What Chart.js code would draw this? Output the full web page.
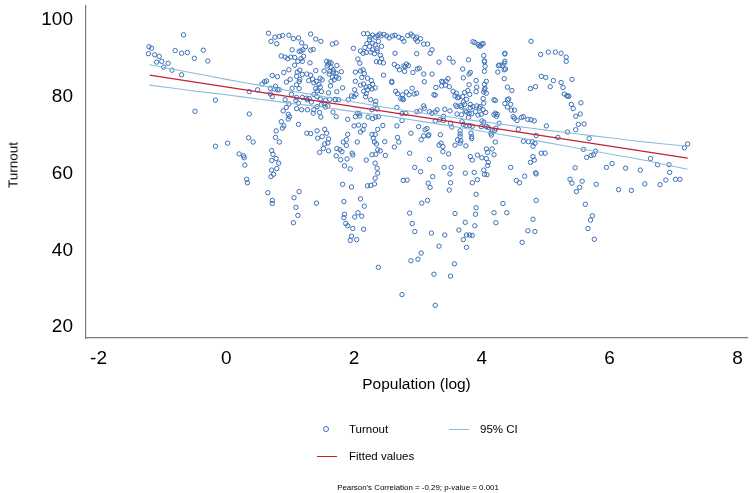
<!DOCTYPE html>
<html>
<head>
<meta charset="utf-8">
<script src="https://cdn.jsdelivr.net/npm/chart.js@4.4.1/dist/chart.umd.min.js"></script>
<style>
  html, body { margin: 0; padding: 0; background: #ffffff; }
  #wrap { position: relative; width: 752px; height: 493px; font-family: Helvetica, Arial, "Liberation Sans", sans-serif; color: #000; }
  canvas { position: absolute; left: 0; top: 0; }
  .lg { position: absolute; font-size: 11.5px; line-height: 14px; white-space: nowrap; }
  .mk { position: absolute; width: 4px; height: 4px; border: 1px solid #3a6fb8; border-radius: 50%; }
  .ln { position: absolute; height: 1px; }
  #note { position: absolute; left: 0; width: 836px; text-align: center; font-size: 7.9px; top: 483px; white-space: nowrap; }
  #ytitle { position: absolute; left: 13px; top: 165px; font-size: 13.5px; white-space: nowrap; transform: translate(-50%, -50%) rotate(-90deg); }
</style>
</head>
<body>
<div id="wrap">
  <canvas id="c" width="752" height="493"></canvas>
  <div id="ytitle">Turnout</div>
  <div class="mk" style="left:323px; top:426px;"></div>
  <div class="lg" style="left:349px; top:422px;">Turnout</div>
  <div class="ln" style="left:449px; top:429px; width:20px; background:#8fbcdb;"></div>
  <div class="lg" style="left:480px; top:422px;">95% CI</div>
  <div class="ln" style="left:317px; top:456px; width:20px; background:#c81e32;"></div>
  <div class="lg" style="left:349px; top:449px;">Fitted values</div>
  <div id="note">Pearson's Correlation = -0.29; p-value = 0.001</div>
</div>
<script>
// ---- data ----
const popLog = [
-1.21,-1.17,-1.22,-1.12,-1.05,-1.09,-1.01,-0.98,-0.91,-0.85,-0.80,-0.70,-0.67,-0.61,-0.50,-0.36,-0.29,-0.70,-0.49,-0.17,
0.36,0.49,0.36,-0.17,0.02,0.35,0.42,0.20,0.27,0.28,0.29,0.32,0.33,
0.66,0.76,0.83,0.88,0.98,1.05,1.13,1.32,1.40,1.48,0.70,0.79,1.18,1.03,1.24,1.14,1.17,1.20,1.36,1.66,1.72,
2.15,2.21,2.25,2.29,2.33,2.37,2.40,2.42,2.47,2.51,2.55,2.60,2.64,2.70,2.75,2.78,2.84,2.89,2.92,2.98,
2.20,2.17,2.24,2.29,2.33,2.29,2.36,2.38,2.43,2.24,2.10,2.14,2.19,2.26,2.32,2.36,2.41,2.43,2.40,2.46,2.35,1.99,2.06,2.09,
0.86,0.92,0.96,1.01,1.07,1.12,1.17,1.19,1.21,1.07,1.31,1.32,
2.64,2.63,2.68,2.71,2.78,2.80,2.85,2.82,2.79,2.92,2.98,2.99,
1.57,1.61,1.60,1.64,1.58,1.64,1.67,1.73,1.62,1.68,1.72,1.61,1.66,1.72,1.69,1.76,1.80,1.64,1.53,1.40,1.47,1.50,1.41,1.45,1.37,1.29,
1.19,1.26,1.32,1.35,1.47,1.40,1.42,1.49,1.15,1.11,1.10,1.15,1.14,1.10,0.90,0.98,1.00,0.94,0.80,0.72,0.63,0.60,0.56,
0.69,0.75,0.77,0.69,0.72,0.80,0.83,1.03,1.02,1.10,1.14,1.63,1.60,1.82,1.73,1.71,
2.02,2.10,2.14,2.16,2.12,2.02,2.10,2.15,2.19,2.24,2.21,2.28,2.33,2.15,2.19,2.18,2.26,2.34,2.01,2.03,2.00,1.96,1.91,2.21,2.27,2.29,
2.59,2.65,2.68,2.76,2.76,2.82,2.86,2.91,2.94,2.98,2.73,2.77,2.46,2.59,
1.19,1.25,1.30,1.37,1.42,1.47,1.55,1.53,1.55,1.59,1.62,1.70,1.76,1.49,1.42,1.37,1.33,1.27,0.92,0.98,0.94,0.89,0.97,1.09,1.13,1.10,1.18,1.27,1.36,1.46,1.48,1.67,1.72,1.90,
2.05,2.08,2.02,2.09,2.33,2.28,2.36,2.38,2.22,2.29,2.34,2.67,2.75,2.81,2.75,2.67,3.01,
0.86,0.90,0.88,0.99,0.97,1.13,2.00,2.07,2.16,2.14,2.10,2.28,2.33,2.30,2.37,2.45,2.35,2.32,2.48,
1.26,1.32,1.42,1.54,1.57,1.60,1.43,1.50,1.54,1.59,1.52,1.46,1.60,1.73,1.78,1.81,1.90,1.88,1.83,1.88,1.98,2.05,1.97,1.72,1.79,1.89,1.94,1.85,
0.78,0.77,0.83,0.71,0.73,0.78,0.82,0.71,0.79,0.71,0.74,0.70,
2.19,2.28,2.34,2.37,2.41,2.49,2.33,2.36,2.37,2.33,2.87,2.95,2.89,2.68,2.70,2.63,
0.65,0.72,0.72,1.06,1.14,1.09,1.12,1.05,1.41,1.82,1.96,1.84,2.10,2.16,1.85,1.84,1.87,1.90,2.01,2.06,2.12,1.98,2.15,1.96,1.94,2.04,
2.21,2.26,2.32,2.77,2.83,2.87,2.91,2.95,2.38,2.89,3.00,2.75,
3.04,3.23,3.16,3.19,3.50,3.51,3.49,3.85,3.93,3.88,4.04,4.08,3.91,3.91,3.90,3.89,3.74,3.64,3.71,3.76,3.81,3.85,3.76,3.58,3.42,3.33,3.21,3.15,3.06,3.05,
3.57,3.25,3.51,3.27,4.19,4.33,4.39,4.22,4.54,4.59,4.67,4.84,4.85,4.85,4.80,4.72,4.83,4.63,5.38,5.41,5.48,
5.57,5.53,5.79,5.62,5.73,5.70,5.66,5.76,6.14,6.34,6.55,6.79,6.88,6.94,7.03,7.10,
5.41,5.35,5.36,5.40,5.43,5.55,5.54,5.47,5.51,5.60,5.47,5.34,5.68,5.59,5.78,5.75,5.71,5.64,5.46,5.95,6.04,6.25,6.48,6.64,6.75,6.93,7.17,7.22,
2.96,3.04,2.99,3.09,3.15,3.22,3.19,3.33,3.02,3.09,3.10,3.22,3.49,3.55,3.79,3.70,3.80,3.82,3.71,
3.86,3.89,3.94,3.96,4.00,4.02,3.98,4.03,4.04,4.04,4.05,4.04,4.07,4.04,4.05,4.03,4.04,
4.36,4.36,4.36,4.35,4.32,4.28,4.26,4.25,4.35,4.37,4.35,4.40,
3.37,3.39,3.44,3.47,3.43,3.49,3.28,3.27,3.25,3.37,3.55,3.60,3.58,3.62,3.64,3.70,3.73,3.80,3.78,3.81,3.76,3.71,3.67,3.59,3.61,3.68,3.73,3.82,3.82,3.86,
3.91,3.91,3.92,4.07,4.02,4.03,3.92,3.97,3.96,4.02,4.06,3.99,3.94,3.90,3.74,3.76,3.80,3.79,3.84,3.68,3.61,3.50,3.42,3.40,3.30,3.27,3.22,3.18,3.10,3.03,2.98,3.09,
4.19,4.21,4.19,4.24,4.23,4.27,4.22,4.20,4.16,4.14,4.10,4.07,4.03,4.00,3.99,3.85,3.81,3.75,3.71,3.69,3.53,3.51,3.40,3.34,3.27,3.11,3.14,3.09,3.16,3.17,3.05,
3.35,3.39,3.36,3.33,3.39,3.48,3.58,3.62,3.66,3.66,3.66,3.67,3.66,3.83,3.84,3.84,3.75,3.82,3.85,3.93,4.00,4.07,4.10,4.09,4.03,3.74,3.52,3.41,3.18,
4.16,4.21,4.19,4.07,4.09,4.15,4.45,4.80,4.82,4.76,4.93,4.99,4.73,4.79,4.83,5.12,5.24,5.27,5.29,5.33,5.19,5.01,4.85,4.57,4.65,4.80,
4.51,4.46,4.40,4.45,4.36,4.21,4.49,4.51,4.55,4.62,4.65,4.72,4.77,4.82,4.40,4.42,4.47,4.76,4.84,5.07,4.93,5.00,4.92,5.04,5.15,5.24,5.32,5.32,4.77
];
const turnout = [
93.0,92.6,91.2,90.9,90.5,89.0,89.2,87.7,88.7,86.9,92.0,91.3,96.1,91.5,90.0,92.1,89.3,85.7,76.2,79.1,
81.3,81.8,75.5,67.1,67.9,69.3,68.2,65.1,64.6,64.1,62.2,58.5,57.6,
96.5,95.5,95.7,95.9,96.0,95.1,95.3,96.3,95.0,94.4,94.4,93.8,94.0,92.2,93.0,91.8,91.9,92.2,92.3,93.7,94.0,
96.4,96.4,95.5,96.0,95.5,95.9,96.3,95.8,96.2,95.8,95.3,95.8,96.0,95.5,95.1,94.4,95.9,96.3,95.8,95.5,
93.8,92.8,93.1,93.9,93.5,92.2,92.5,94.4,93.1,94.8,91.9,91.3,91.5,91.6,91.2,91.9,90.8,89.9,89.0,88.8,89.1,92.6,89.8,88.7,
90.6,90.3,89.9,90.3,90.2,89.2,89.9,89.2,90.5,88.2,88.8,92.1,
91.3,88.4,87.8,87.0,88.0,87.8,88.1,88.5,86.6,86.3,91.2,87.2,
89.2,89.0,88.5,88.8,88.0,87.6,87.0,88.1,86.6,86.4,86.1,85.9,85.1,85.1,84.4,84.8,86.5,84.0,86.7,86.8,84.8,84.4,84.0,83.2,83.6,84.2,
85.8,85.9,85.6,84.6,82.5,82.1,81.5,81.3,86.9,86.4,85.3,84.5,83.9,83.1,86.3,87.0,84.5,83.8,85.2,85.5,84.1,83.9,83.3,
82.2,82.0,82.7,80.7,80.0,81.8,81.8,82.2,80.6,79.8,82.1,82.8,81.0,82.3,81.3,79.2,
86.4,86.7,87.0,86.0,85.0,84.0,83.0,83.3,82.5,82.6,81.8,82.0,82.3,81.4,80.8,80.0,79.2,78.8,81.8,80.6,80.0,80.2,79.2,84.8,84.2,83.2,
84.0,81.4,80.8,80.5,79.5,81.2,80.5,82.2,80.7,80.9,79.5,79.2,85.6,83.7,
79.8,79.6,79.5,80.6,80.0,79.4,79.1,78.2,77.3,77.6,79.3,79.3,79.2,78.0,77.4,76.6,78.6,79.2,79.2,78.1,77.2,76.3,75.4,79.0,78.3,76.9,76.6,76.6,75.7,75.9,74.7,76.0,74.8,74.1,
75.7,75.6,74.8,75.0,77.9,76.6,76.8,74.8,74.7,74.3,74.7,77.2,75.6,75.7,73.8,72.4,72.2,
73.5,72.4,71.8,74.8,74.2,72.8,72.4,72.6,72.5,71.4,70.8,70.2,70.2,69.2,71.5,72.5,67.7,68.2,68.3,
70.5,70.4,71.1,71.5,70.5,69.0,69.2,69.6,67.7,68.0,66.5,65.5,65.9,66.5,66.2,65.7,70.2,68.8,68.2,67.3,64.8,68.2,65.3,64.6,63.6,63.8,61.2,62.0,
71.1,69.4,68.2,66.0,65.0,63.9,62.7,63.4,61.3,60.9,59.8,59.2,
63.5,64.9,65.0,66.2,65.9,64.7,62.7,61.4,60.1,58.8,65.3,61.6,70.5,69.4,68.2,66.9,
55.0,53.0,52.2,53.7,55.3,51.2,49.1,47.2,52.3,57.2,56.5,52.7,53.4,51.5,49.4,48.5,47.0,46.4,48.7,49.8,48.9,45.7,45.5,43.7,42.6,42.8,
56.8,56.9,57.3,58.2,58.3,49.7,47.0,44.9,35.6,37.3,37.7,28.5,
60.5,59.2,57.5,56.4,59.9,57.6,55.7,57.6,58.4,60.3,59.8,59.7,54.6,51.1,49.4,46.4,47.3,45.3,42.8,44.0,44.0,43.9,40.8,49.6,44.0,41.1,44.5,53.0,52.3,39.3,
36.5,33.8,33.3,25.7,49.8,52.2,49.8,47.2,58.2,57.6,59.3,60.2,59.9,53.0,48.1,45.1,44.9,42.1,58.5,57.5,55.3,
58.0,56.4,57.2,52.0,49.0,47.9,45.7,42.9,55.8,55.6,57.3,57.1,58.3,60.3,58.5,58.5,
84.5,80.2,80.1,78.0,76.9,78.4,75.5,74.9,72.8,72.9,71.4,70.8,69.1,66.3,65.8,64.9,64.7,64.2,61.5,61.6,62.6,61.4,60.9,63.9,62.3,62.3,66.7,67.7,
95.0,95.1,94.4,93.7,93.7,92.2,91.3,89.0,87.4,85.9,83.9,85.9,90.0,89.0,89.6,87.2,85.9,86.3,84.9,
94.3,94.1,93.6,93.2,93.7,93.8,93.2,90.7,89.3,89.1,87.9,86.6,84.0,83.2,82.2,81.2,81.8,
91.3,91.1,89.2,88.7,88.1,88.2,88.1,86.4,87.0,87.2,84.7,82.5,
84.0,83.8,84.0,84.7,83.0,82.6,82.4,80.4,80.5,82.8,81.4,80.9,80.2,79.7,79.9,80.0,81.1,83.1,81.6,80.6,79.3,78.6,77.7,77.8,77.4,77.3,78.0,78.0,77.1,77.4,
81.3,84.2,82.5,80.9,79.5,78.3,77.6,77.4,77.0,76.6,75.9,75.4,75.2,76.1,76.3,76.0,75.6,74.6,75.6,75.3,75.5,76.3,76.7,74.9,76.6,76.0,75.7,76.1,77.0,76.3,76.1,77.6,
79.2,75.7,75.3,75.4,74.9,73.1,71.8,71.2,71.1,70.5,72.0,72.2,73.4,73.7,72.2,72.3,72.5,72.5,72.8,73.5,72.1,73.1,73.8,74.0,73.7,71.4,71.7,69.8,69.8,70.1,68.8,
70.1,67.0,67.9,67.4,65.7,65.1,67.4,68.8,71.1,70.3,69.6,68.5,67.9,70.5,69.6,69.1,67.2,64.4,63.5,64.8,64.1,63.9,62.9,62.1,60.9,60.1,61.6,61.6,63.7,
66.4,68.2,64.9,66.4,65.5,70.0,61.6,64.4,63.5,62.9,65.3,65.3,68.3,68.3,67.9,84.2,83.7,82.4,80.7,80.2,69.4,72.4,69.9,71.5,68.4,67.1,
76.5,76.5,77.3,78.0,78.2,79.0,74.8,74.4,73.8,74.6,74.8,74.1,74.0,73.7,79.2,79.4,81.6,82.1,82.6,82.6,85.3,85.0,91.0,91.6,91.6,91.3,90.3,89.2,94.4
];
// fitted regression line (end points) and 95% CI band
const fitX = [-1.2, 7.22];
const fitY = [85.6, 64.0];
const ciX = [-1.2, -0.5, 0, 0.5, 1, 1.5, 2, 2.5, 3, 3.5, 4, 4.5, 5, 5.5, 6, 6.5, 7.22];
const ciUpper = [88.3, 86.1, 84.5, 83.0, 81.5, 80.1, 78.6, 77.2, 75.9, 74.7, 73.5, 72.4, 71.3, 70.3, 69.3, 68.3, 67.1];
const ciLower = [83.0, 81.5, 80.5, 79.4, 78.3, 77.3, 76.1, 75.0, 73.7, 72.4, 71.0, 69.6, 68.1, 66.6, 65.1, 63.6, 61.1];
const xTicks = [-2, 0, 2, 4, 6, 8];
const yTicks = [20, 40, 60, 80, 100];

const pts = popLog.map((x, i) => ({x: x, y: turnout[i]}));
const fitPts = fitX.map((x, i) => ({x: x, y: fitY[i]}));
const upPts = ciX.map((x, i) => ({x: x, y: ciUpper[i]}));
const loPts = ciX.map((x, i) => ({x: x, y: ciLower[i]}));

const FONT = 'Helvetica, Arial, "Liberation Sans", sans-serif';

new Chart(document.getElementById('c'), {
  type: 'scatter',
  data: {
    datasets: [
      { label: 'Fitted values', data: fitPts, showLine: true, borderColor: '#c81e32', borderWidth: 1.2, pointRadius: 0, order: 1 },
      { label: '95% CI', data: upPts, showLine: true, borderColor: '#8fbcdb', borderWidth: 1.1, pointRadius: 0, tension: 0.3, order: 2 },
      { label: '95% CI lower', data: loPts, showLine: true, borderColor: '#8fbcdb', borderWidth: 1.1, pointRadius: 0, tension: 0.3, order: 3 },
      { label: 'Turnout', data: pts, showLine: false, pointRadius: 2.2, pointBorderWidth: 1, pointBorderColor: '#3a6fb8', pointBackgroundColor: 'rgba(0,0,0,0)', order: 4 }
    ]
  },
  options: {
    responsive: false,
    animation: false,
    devicePixelRatio: 1,
    layout: { padding: { left: 0, right: 2, top: 6, bottom: 0 } },
    plugins: { legend: { display: false }, tooltip: { enabled: false } },
    scales: {
      x: {
        type: 'linear', min: -2.196, max: 8.15,
        afterBuildTicks: (s) => { s.ticks = xTicks.map(v => ({value: v})); },
        afterFit: (s) => { s.height = 155; s.paddingLeft = 0; s.paddingRight = 0; },
        grid: { display: false, drawTicks: false },
        border: { display: true, color: '#7a7a7a', width: 1.2 },
        ticks: { color: '#000', font: { family: FONT, size: 19 }, padding: 9, maxRotation: 0, autoSkip: false },
        title: { display: true, text: 'Population (log)', color: '#000', font: { family: FONT, size: 15.5 }, padding: { top: 0, bottom: 99 } }
      },
      y: {
        type: 'linear', min: 17.2, max: 103.6,
        afterBuildTicks: (s) => { s.ticks = yTicks.map(v => ({value: v})); },
        afterFit: (s) => { s.width = 86; s.paddingTop = 0; s.paddingBottom = 0; },
        grid: { display: false, drawTicks: false },
        border: { display: true, color: '#7a7a7a', width: 1.2 },
        ticks: { color: '#000', font: { family: FONT, size: 19 }, padding: 13, autoSkip: false },
        title: { display: false }
      }
    }
  }
});
</script>
</body>
</html>
